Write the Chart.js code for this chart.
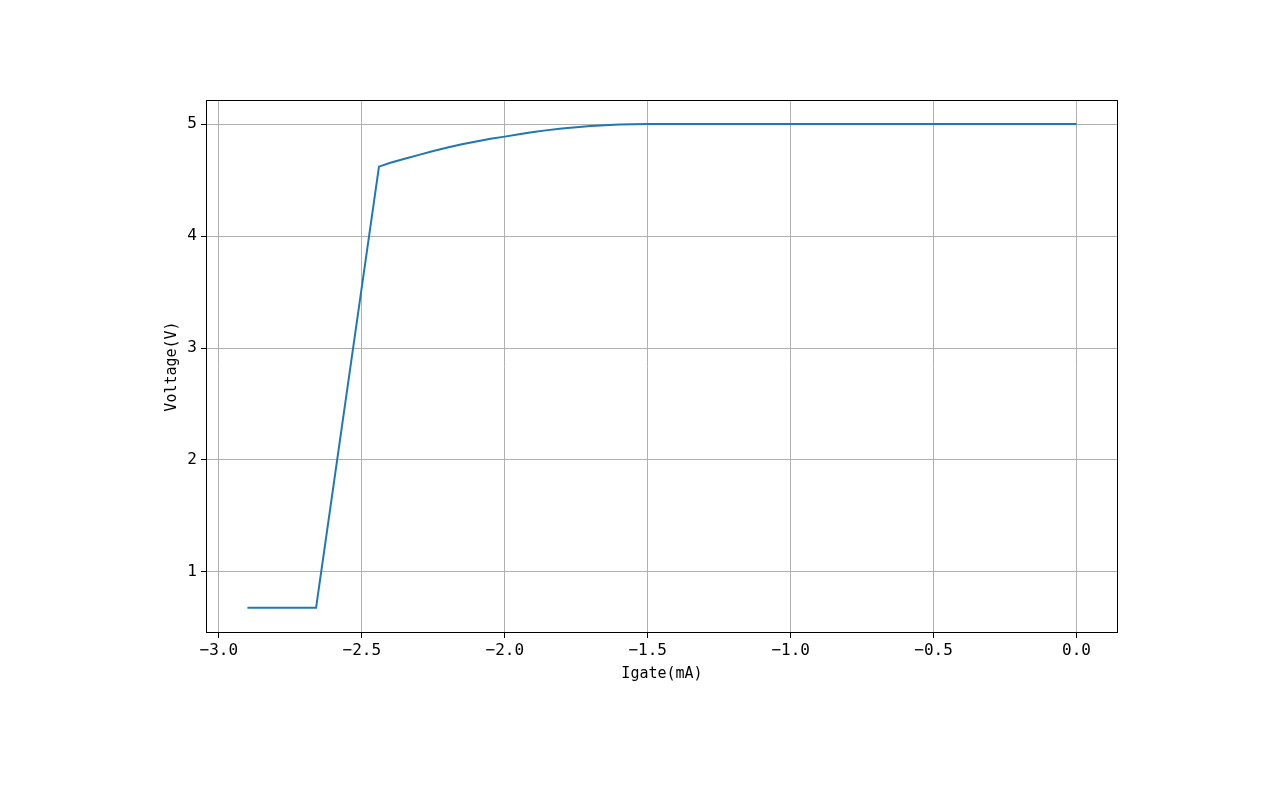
<!DOCTYPE html>
<html>
<head>
<meta charset="utf-8">
<script src="https://cdn.jsdelivr.net/npm/chart.js@4.4.0/dist/chart.umd.min.js"></script>
<style>
  html, body { margin: 0; padding: 0; background: #fff; }
  #wrap { width: 1280px; height: 800px; }
</style>
</head>
<body>
<div id="wrap"><canvas id="grafica" width="1280" height="800"></canvas></div>
<script>
// Datos
const igate = [-2.90, -2.66, -2.44, -2.40, -2.35, -2.30, -2.25, -2.20, -2.15, -2.10, -2.05, -2.00,
               -1.95, -1.90, -1.85, -1.80, -1.75, -1.70, -1.65, -1.60, -1.55, -1.50, -1.00, -0.50, 0.00];
const voltage = [0.68, 0.68, 4.62, 4.655, 4.69, 4.725, 4.76, 4.79, 4.82, 4.845, 4.868, 4.888,
                 4.91, 4.93, 4.946, 4.96, 4.972, 4.982, 4.99, 4.996, 4.999, 5.00, 5.00, 5.00, 5.00];
const xTicks = [-3.0, -2.5, -2.0, -1.5, -1.0, -0.5, 0.0];
const yTicks = [1, 2, 3, 4, 5];

const fuente = "'DejaVu Sans Mono', monospace";

// marco negro alrededor del area de la grafica
const marco = {
    id: 'marco',
    afterDraw(chart) {
        const { ctx, chartArea: a } = chart;
        ctx.save();
        ctx.strokeStyle = '#000';
        ctx.lineWidth = 1;
        ctx.strokeRect(a.left + 0.5, a.top + 0.5, a.right - a.left - 1, a.bottom - a.top - 1);
        ctx.restore();
    }
};

const ctx = document.getElementById('grafica').getContext('2d');
new Chart(ctx, {
    type: 'line',
    data: {
        datasets: [{
            data: igate.map((x, i) => ({ x, y: voltage[i] })),
            borderColor: '#1f77b4',
            borderWidth: 2,
            pointRadius: 0,
            tension: 0,
            fill: false
        }]
    },
    options: {
        responsive: false,
        animation: false,
        layout: { padding: { left: 163, right: 162, top: 100, bottom: 117 } },
        plugins: { legend: { display: false }, tooltip: { enabled: false } },
        scales: {
            x: {
                type: 'linear',
                min: -3.045,
                max: 0.145,
                afterFit: s => { s.height = 50; },
                afterBuildTicks: s => { s.ticks = xTicks.map(v => ({ value: v })); },
                grid: { color: '#b0b0b0', lineWidth: 1, tickLength: 5, tickColor: '#000' },
                border: { display: false },
                ticks: {
                    font: { family: fuente, size: 16 },
                    color: '#000',
                    padding: 3,
                    maxRotation: 0,
                    callback: v => v.toFixed(1).replace('-', '\u2212')
                },
                title: {
                    display: true,
                    text: 'Igate(mA)',
                    font: { family: fuente, size: 15 },
                    color: '#000',
                    padding: { top: 0, bottom: 0 }
                }
            },
            y: {
                type: 'linear',
                min: 0.455,
                max: 5.215,
                afterFit: s => { s.width = 43; },
                afterBuildTicks: s => { s.ticks = yTicks.map(v => ({ value: v })); },
                grid: { color: '#b0b0b0', lineWidth: 1, tickLength: 5, tickColor: '#000' },
                border: { display: false },
                ticks: {
                    font: { family: fuente, size: 16 },
                    color: '#000',
                    padding: 4,
                    callback: v => String(v)
                },
                title: {
                    display: true,
                    text: 'Voltage(V)',
                    font: { family: fuente, size: 15 },
                    color: '#000',
                    padding: { top: 0, bottom: 0 }
                }
            }
        }
    },
    plugins: [marco]
});
</script>
</body>
</html>
